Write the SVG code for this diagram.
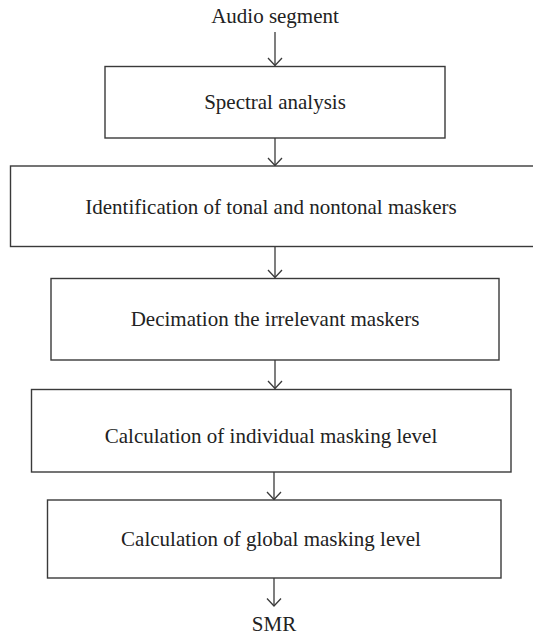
<svg xmlns="http://www.w3.org/2000/svg" width="533" height="639" viewBox="0 0 533 639">
<defs>
<style>
.box{fill:#fff;stroke:#3a3a3a;stroke-width:1.4}
.lbl{font-family:"Liberation Serif","Times New Roman",serif;font-size:21px;fill:#222;text-anchor:middle}
.conn{stroke:#3a3a3a;stroke-width:1.3;fill:none}
</style>
<marker id="arr" viewBox="-10 -9 12 18" markerWidth="12" markerHeight="18" refX="0" refY="0" orient="auto" markerUnits="userSpaceOnUse">
<path d="M-7.5,-7 L0,0 L-7.5,7" fill="none" stroke="#3a3a3a" stroke-width="1.3"/>
</marker>
</defs>
<rect width="533" height="639" fill="#fff"/>
<g id="connectors">
<line class="conn" x1="275" y1="32" x2="275" y2="65.5" marker-end="url(#arr)"/>
<line class="conn" x1="275" y1="138" x2="275" y2="165.5" marker-end="url(#arr)"/>
<line class="conn" x1="275" y1="247" x2="275" y2="277.5" marker-end="url(#arr)"/>
<line class="conn" x1="275" y1="360" x2="275" y2="388.5" marker-end="url(#arr)"/>
<line class="conn" x1="274" y1="472" x2="274" y2="499.5" marker-end="url(#arr)"/>
<line class="conn" x1="274" y1="578" x2="274" y2="606" marker-end="url(#arr)"/>
</g>
<g id="input"><text class="lbl" x="275" y="23">Audio segment</text></g>
<g id="n1"><rect class="box" x="105" y="66.5" width="340" height="71.5"/><text class="lbl" x="275" y="109">Spectral analysis</text></g>
<g id="n2"><rect class="box" x="10.5" y="166" width="530" height="80.5"/><text class="lbl" x="271" y="214">Identification of tonal and nontonal maskers</text></g>
<g id="n3"><rect class="box" x="51" y="278.5" width="448" height="81.5"/><text class="lbl" x="275" y="326">Decimation the irrelevant maskers</text></g>
<g id="n4"><rect class="box" x="31.5" y="389.5" width="479.5" height="82.5"/><text class="lbl" x="271" y="443">Calculation of individual masking level</text></g>
<g id="n5"><rect class="box" x="47.5" y="500" width="453.5" height="78"/><text class="lbl" x="271" y="546">Calculation of global masking level</text></g>
<g id="output"><text class="lbl" x="274" y="631">SMR</text></g>
</svg>
